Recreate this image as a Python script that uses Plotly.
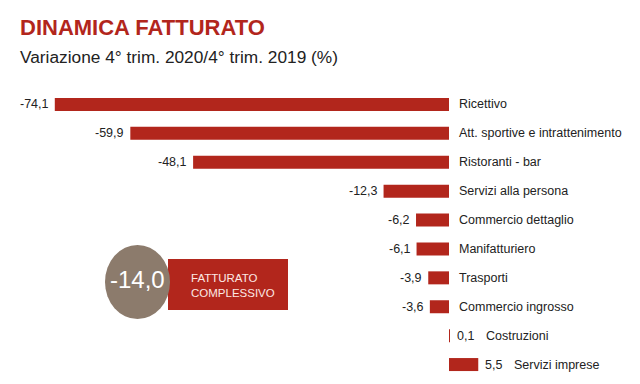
import plotly.graph_objects as go

categories = ["Ricettivo", "Att. sportive e intrattenimento", "Ristoranti - bar",
              "Servizi alla persona", "Commercio dettaglio", "Manifatturiero",
              "Trasporti", "Commercio ingrosso", "Costruzioni", "Servizi imprese"]
values = [-74.1, -59.9, -48.1, -12.3, -6.2, -6.1, -3.9, -3.6, 0.1, 5.5]
total_value = -14.0
total_label = "FATTURATO<br>COMPLESSIVO"
title_text = "DINAMICA FATTURATO"
subtitle_text = "Variazione 4° trim. 2020/4° trim. 2019 (%)"

RED = "#B2261C"
BROWN = "#8C7B6C"
FONT = "Liberation Sans, Arial, sans-serif"
W, H = 640, 384
OFF = 8  # page body margin offset
T, B = 90 - OFF, 5 + OFF
PH = H - T - B


def fmt(v):
    return f"{v:.1f}".replace(".", ",")


def px_x(p):
    return (p - OFF) / W


def px_y(p):
    return (H - B - (p - OFF)) / PH


zero_px = 449 - OFF
scale = 5.32
x_range = [-zero_px / scale, (W - zero_px) / scale]

fig = go.Figure(go.Bar(
    x=values, y=categories, orientation="h",
    marker=dict(color=RED, line=dict(width=0)),
    width=0.45, hoverinfo="skip",
))

lab_font = dict(size=12.5, color="#222", family=FONT)
ann = []
for c, v in zip(categories, values):
    if v < 0:
        ann.append(dict(x=v, y=c, xref="x", yref="y", text=fmt(v), showarrow=False,
                        xanchor="right", xshift=-4, font=lab_font))
        ann.append(dict(x=0, y=c, xref="x", yref="y", text=c, showarrow=False,
                        xanchor="left", xshift=8, font=lab_font))
    else:
        ann.append(dict(x=v, y=c, xref="x", yref="y", text=fmt(v), showarrow=False,
                        xanchor="left", xshift=5, font=lab_font))
        ann.append(dict(x=v, y=c, xref="x", yref="y", text=c, showarrow=False,
                        xanchor="left", xshift=34, font=lab_font))

# title and subtitle
ann.append(dict(x=px_x(18), y=px_y(27), xref="paper", yref="paper", text="<b>" + title_text + "</b>",
                showarrow=False, xanchor="left", yanchor="middle",
                font=dict(size=22, color=RED, family=FONT)))
ann.append(dict(x=px_x(18), y=px_y(57), xref="paper", yref="paper", text=subtitle_text,
                showarrow=False, xanchor="left", yanchor="middle",
                font=dict(size=17.3, color="#222", family=FONT)))

# total badge
shapes = [
    dict(type="rect", xref="paper", yref="paper", x0=px_x(168), x1=px_x(288),
         y0=px_y(310), y1=px_y(259), fillcolor=RED, line=dict(width=0), layer="above"),
    dict(type="circle", xref="paper", yref="paper", x0=px_x(105), x1=px_x(170),
         y0=px_y(319), y1=px_y(245), fillcolor=BROWN, line=dict(width=0), layer="above"),
]
ann.append(dict(x=px_x(137.5), y=px_y(279), xref="paper", yref="paper", text=fmt(total_value),
                showarrow=False, xanchor="center", yanchor="middle",
                font=dict(size=24, color="white", family=FONT)))
ann.append(dict(x=px_x(189), y=px_y(285), xref="paper", yref="paper", text=total_label,
                showarrow=False, xanchor="left", yanchor="middle", align="left",
                font=dict(size=11.5, color="#FCE8E4", family=FONT)))

fig.update_layout(
    width=W, height=H,
    margin=dict(l=0, r=0, t=T, b=B),
    paper_bgcolor="white", plot_bgcolor="white",
    showlegend=False,
    xaxis=dict(range=x_range, visible=False, fixedrange=True),
    yaxis=dict(autorange="reversed", visible=False, fixedrange=True),
    annotations=ann, shapes=shapes,
)

fig.write_html("out.html")
